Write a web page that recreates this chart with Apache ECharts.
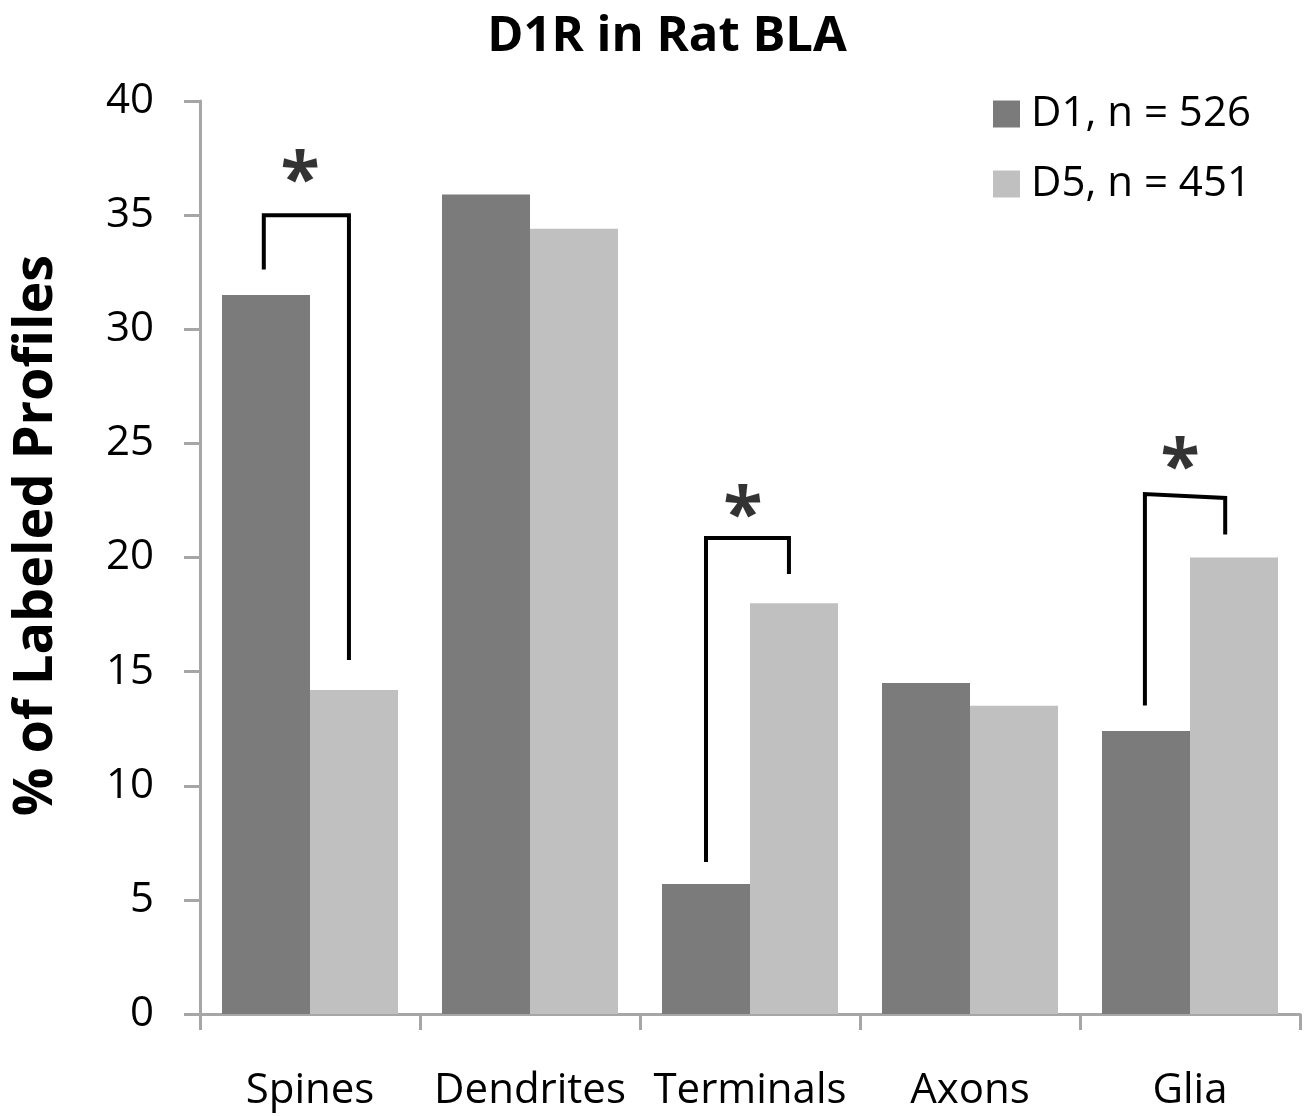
<!DOCTYPE html>
<html>
<head>
<meta charset="utf-8">
<script src="https://cdn.jsdelivr.net/npm/echarts@6/dist/echarts.min.js"></script>
<style>
  html, body { margin: 0; padding: 0; background: #fff; }
  #chart { width: 1312px; height: 1116px; }
</style>
</head>
<body>
<div id="chart"></div>
<script>
const categories = ["Spines", "Dendrites", "Terminals", "Axons", "Glia"];
const d1Values = [31.5, 35.9, 5.7, 14.5, 12.4];
const d5Values = [14.2, 34.4, 18.0, 13.5, 20.0];
const seriesNames = ["D1, n = 526", "D5, n = 451"];

// significance brackets: [x on 0..5 category scale, y value]
const bracketSpines = [[0.29, 32.7], [0.29, 35.0], [0.677, 35.0], [0.677, 15.6]];
const bracketTerminals = [[2.3, 6.75], [2.3, 20.85], [2.677, 20.85], [2.677, 19.36]];
const bracketGlia = [[4.295, 13.6], [4.295, 22.78], [4.66, 22.61], [4.66, 21.1]];
const starPoints = [[0.455, 36.4], [2.468, 21.7], [4.455, 23.8]];

const FONT = "'Open Sans', sans-serif";
const AXIS_GREY = "#a6a6a6";

const bracket = (data) => ({
  type: "line",
  xAxisIndex: 1,
  data,
  symbol: "none",
  silent: true,
  animation: false,
  lineStyle: { color: "#000", width: 4, cap: "square", join: "miter" },
  z: 5,
});

const chart = echarts.init(document.getElementById("chart"), null, { renderer: "canvas" });
chart.setOption({
  backgroundColor: "#fff",
  animation: false,
  title: {
    text: "D1R in Rat BLA",
    left: 662,
    textAlign: "center",
    top: 8,
    textStyle: { fontFamily: FONT, fontWeight: "bold", fontSize: 49, color: "#000" },
  },
  legend: {
    orient: "vertical",
    left: 988,
    top: 88,
    icon: "rect",
    itemWidth: 27,
    itemHeight: 27,
    itemGap: 28,
    data: seriesNames,
    textStyle: { fontFamily: FONT, fontSize: 42, color: "#000", lineHeight: 42, padding: [0, 0, 0, 6] },
  },
  grid: { left: 200, top: 101, width: 1100, height: 913, outerBoundsMode: "none", containLabel: false },
  xAxis: [
    {
      type: "category",
      data: categories,
      axisLine: { lineStyle: { color: AXIS_GREY, width: 3 } },
      axisTick: { show: true, length: 16, lineStyle: { color: AXIS_GREY, width: 3 } },
      axisLabel: { interval: 0, fontFamily: FONT, fontSize: 42, color: "#000", margin: 56 },
    },
    { type: "value", min: 0, max: 5, show: false },
  ],
  yAxis: {
    type: "value",
    min: 0,
    max: 40,
    interval: 5,
    name: "% of Labeled Profiles",
    nameLocation: "middle",
    nameGap: 136,
    nameTextStyle: { fontFamily: FONT, fontWeight: "bold", fontSize: 54, color: "#000", padding: [0, 0, 0, 44] },
    axisLine: { show: true, lineStyle: { color: AXIS_GREY, width: 3 } },
    axisTick: { show: true, length: 16, lineStyle: { color: AXIS_GREY, width: 3 } },
    axisLabel: { fontFamily: FONT, fontSize: 42, color: "#000", margin: 46 },
    splitLine: { show: false },
  },
  series: [
    {
      name: seriesNames[0],
      type: "bar",
      data: d1Values,
      barGap: "0%",
      barCategoryGap: "20%",
      itemStyle: { color: "#7b7b7b" },
    },
    {
      name: seriesNames[1],
      type: "bar",
      data: d5Values,
      itemStyle: { color: "#c0c0c0" },
    },
    bracket(bracketSpines),
    bracket(bracketTerminals),
    bracket(bracketGlia),
    {
      type: "scatter",
      xAxisIndex: 1,
      data: starPoints,
      symbolSize: 1,
      silent: true,
      itemStyle: { color: "transparent" },
      label: {
        show: true,
        position: "inside",
        formatter: "*",
        fontFamily: FONT,
        fontWeight: "bold",
        fontSize: 72,
        color: "#000",
      },
      z: 6,
    },
  ],
});
</script>
</body>
</html>
